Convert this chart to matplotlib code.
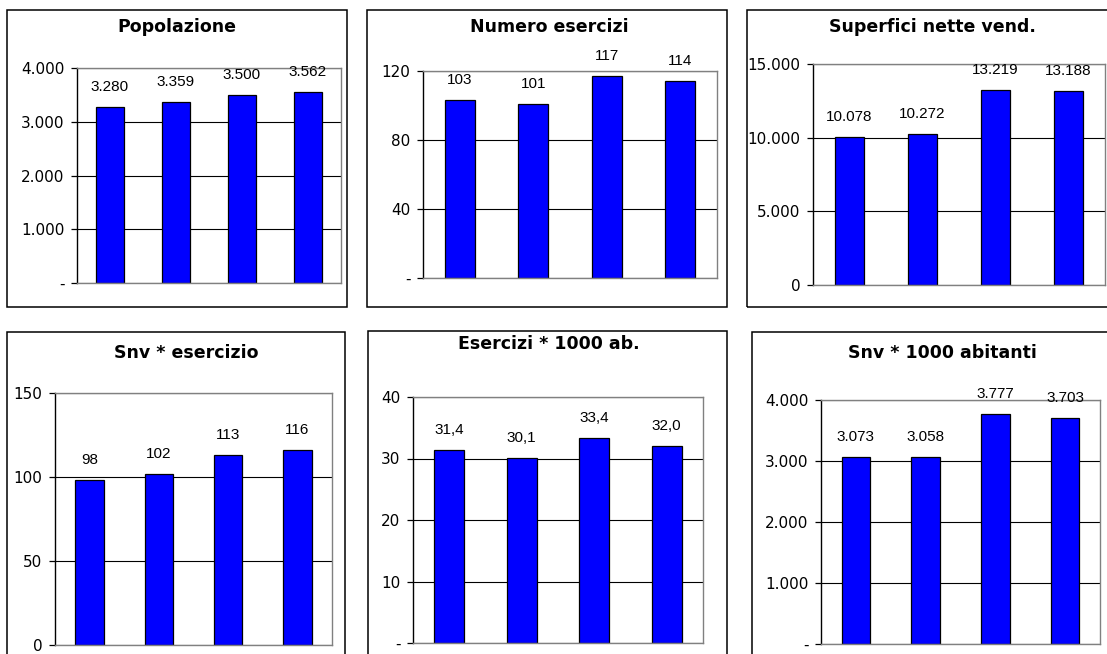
import matplotlib
matplotlib.use("Agg")
import matplotlib.pyplot as plt
from matplotlib.patches import Rectangle
from matplotlib.ticker import FixedLocator, FuncFormatter

plt.rcParams['font.family'] = ['DejaVu Sans']

# Four periods per indicator (category labels are not displayed)
periods = ["1", "2", "3", "4"]

popolazione = [3280, 3359, 3500, 3562]
numero_esercizi = [103, 101, 117, 114]
superfici_nette = [10078, 10272, 13219, 13188]
snv_per_esercizio = [98, 102, 113, 116]
esercizi_per_1000 = [31.4, 30.1, 33.4, 32.0]
snv_per_1000 = [3073, 3058, 3777, 3703]

titles = ["Popolazione", "Numero esercizi", "Superfici nette vend.",
          "Snv * esercizio", "Esercizi * 1000 ab.", "Snv * 1000 abitanti"]

W, H = 1107, 654
fig = plt.figure(figsize=(W / 100, H / 100), dpi=100)
fig.patch.set_facecolor("white")


def fig_rect(x0, y0, x1, y1):
    return [x0 / W, 1 - y1 / H, (x1 - x0) / W, (y1 - y0) / H]


def it_number(v, decimals=0, zero=None):
    if v == 0 and zero is not None:
        return zero
    s = f"{v:,.{decimals}f}"
    return s.replace(",", "X").replace(".", ",").replace("X", ".")


panels = [
    # values, box, plot area, ticks, zero label, decimals, title centre
    dict(vals=popolazione, box=(7, 10, 347, 307), plot=(77, 68, 341, 283),
         ticks=[0, 1000, 2000, 3000, 4000], zero="-", dec=0, tc=(177, 27)),
    dict(vals=numero_esercizi, box=(367, 10, 727, 307), plot=(423, 71, 717, 278),
         ticks=[0, 40, 80, 120], zero="-", dec=0, tc=(549, 27)),
    dict(vals=superfici_nette, box=(747, 10, 1115, 307), plot=(813, 64, 1105, 285),
         ticks=[0, 5000, 10000, 15000], zero=None, dec=0, tc=(932, 27)),
    dict(vals=snv_per_esercizio, box=(7, 332, 345, 670), plot=(55, 393, 332, 645),
         ticks=[0, 50, 100, 150], zero=None, dec=0, tc=(186, 353)),
    dict(vals=esercizi_per_1000, box=(368, 331, 727, 670), plot=(413, 397, 703, 643),
         ticks=[0, 10, 20, 30, 40], zero="-", dec=1, tc=(549, 344)),
    dict(vals=snv_per_1000, box=(752, 332, 1115, 670), plot=(821, 400, 1100, 644),
         ticks=[0, 1000, 2000, 3000, 4000], zero="-", dec=0, tc=(942, 353)),
]

for p, title in zip(panels, titles):
    # chart-area frame
    bx0, by0, bx1, by1 = p["box"]
    fig.add_artist(Rectangle((bx0 / W, 1 - by1 / H), (bx1 - bx0) / W, (by1 - by0) / H,
                             transform=fig.transFigure, fill=False,
                             edgecolor="black", linewidth=1.1))
    fig.text(p["tc"][0] / W, 1 - p["tc"][1] / H, title, ha="center", va="center",
             fontsize=12.5, fontweight="bold", color="black")

    ax = fig.add_axes(fig_rect(*p["plot"]))
    x = list(range(len(periods)))
    ax.bar(x, p["vals"], width=0.41, color="#0000FF", edgecolor="black",
           linewidth=0.9, zorder=2)
    ax.set_xlim(-0.5, len(periods) - 0.5)
    ax.set_ylim(p["ticks"][0], p["ticks"][-1])
    ax.set_xticks([])
    ax.yaxis.set_major_locator(FixedLocator(p["ticks"]))
    dec, zero = p["dec"], p["zero"]
    ax.yaxis.set_major_formatter(FuncFormatter(
        lambda v, pos, d=dec, z=zero: it_number(v, 0 if v == int(v) else d, z)))
    ax.tick_params(axis="y", direction="out", length=4, width=0.9, pad=5,
                   labelsize=11, colors="black")
    ax.yaxis.grid(True, color="black", linewidth=0.8)
    ax.set_axisbelow(True)
    ax.spines["left"].set_color("black")
    ax.spines["left"].set_linewidth(1.0)
    for s in ("top", "right", "bottom"):
        ax.spines[s].set_color("#808080")
        ax.spines[s].set_linewidth(1.0)
    ax.set_facecolor("white")

    for xi, v in zip(x, p["vals"]):
        ax.annotate(it_number(v, dec), (xi, v), xytext=(0, 20 * 0.72),
                    textcoords="offset points", ha="center", va="center",
                    fontsize=11, family="Liberation Sans", color="black",
                    annotation_clip=False)

fig.savefig("out.png", dpi=100, facecolor="white")
